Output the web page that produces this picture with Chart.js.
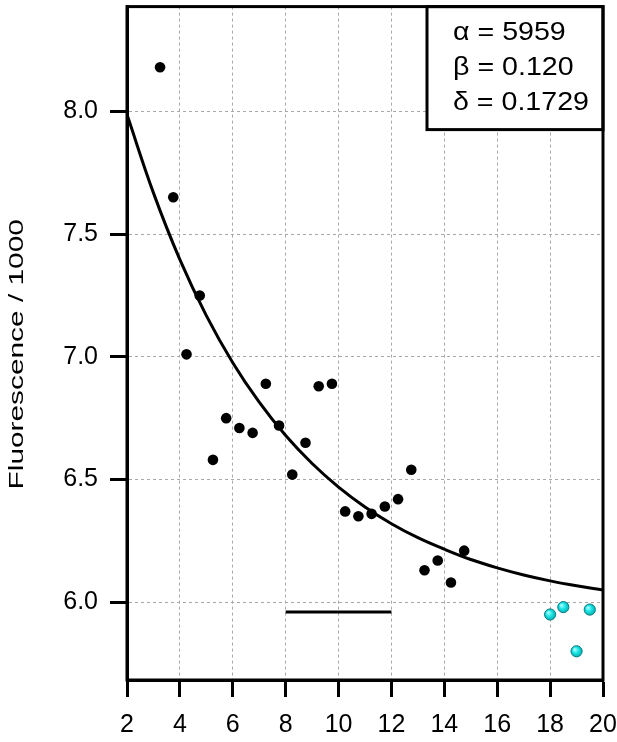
<!DOCTYPE html>
<html>
<head>
<meta charset="utf-8">
<script src="https://cdn.jsdelivr.net/npm/chart.js@4"></script>
<style>
  html, body { margin: 0; padding: 0; background: #fff; }
  #wrap { width: 617px; height: 742px; }
</style>
</head>
<body>
<div id="wrap"><canvas id="fluoC" width="617" height="742"></canvas></div>
<script>
// données
const xTicks = [2, 4, 6, 8, 10, 12, 14, 16, 18, 20];
const yTicks = [6.0, 6.5, 7.0, 7.5, 8.0];

const measX = [3.25, 3.75, 4.25, 4.75, 5.25, 5.75, 6.25, 6.75, 7.25, 7.75, 8.25, 8.75,
               9.25, 9.75, 10.25, 10.75, 11.25, 11.75, 12.25, 12.75, 13.25, 13.75, 14.25, 14.75];
const measY = [8.18, 7.65, 7.01, 7.25, 6.58, 6.75, 6.71, 6.69, 6.89, 6.72, 6.52, 6.65,
               6.88, 6.89, 6.37, 6.35, 6.36, 6.39, 6.42, 6.54, 6.13, 6.17, 6.08, 6.21];

const extraX = [18.0, 18.5, 19.0, 19.5];
const extraY = [5.95, 5.98, 5.80, 5.97];

const fitX = [2, 3, 4, 5, 6, 7, 8, 9, 10, 11, 12, 13, 14, 15, 16, 17, 18, 19, 20];
const fitY = [7.987, 7.668, 7.396, 7.168, 6.976, 6.815, 6.679, 6.565, 6.469, 6.388, 6.320,
              6.263, 6.216, 6.174, 6.140, 6.111, 6.087, 6.067, 6.050];

const barX = [8, 12];
const barY = [5.96, 5.96];

const params = ['\u03B1 = 5959', '\u03B2 = 0.120', '\u03B4 = 0.1729'];
const yTitleText = 'Fluorescence / 1000';

const FONT = "'Liberation Sans', Arial, sans-serif";

function pts(xs, ys) {
  return xs.map((x, i) => ({ x, y: ys[i] }));
}

// petit dégradé "bille" pour les points cyan
function cyanFill(c) {
  const chart = c.chart;
  if (c.type !== 'data' || !chart.chartArea) return '#17e0e0';
  const px = chart.scales.x.getPixelForValue(c.raw.x);
  const py = chart.scales.y.getPixelForValue(c.raw.y);
  const g = chart.ctx.createRadialGradient(px - 2, py - 2, 0.5, px, py, 6);
  g.addColorStop(0, '#aaffff');
  g.addColorStop(0.45, '#1ee6e6');
  g.addColorStop(1, '#00a9ab');
  return g;
}

// cadre complet autour de la zone du graphique
const framePlugin = {
  id: 'frame',
  afterDraw(chart) {
    const { ctx, chartArea: a } = chart;
    ctx.save();
    ctx.lineWidth = 3;
    ctx.strokeStyle = '#000';
    ctx.strokeRect(a.left, a.top, a.right - a.left, a.bottom - a.top);
    ctx.restore();
  },
};

// titre de l'axe Y (texte étiré comme sur la figure)
const yTitlePlugin = {
  id: 'yTitle',
  afterDraw(chart) {
    const { ctx, chartArea: a } = chart;
    ctx.save();
    ctx.translate(17.5, (a.top + a.bottom) / 2 + 11);
    ctx.rotate(-Math.PI / 2);
    ctx.scale(1.42, 1);
    ctx.fillStyle = '#000';
    ctx.font = '21px ' + FONT;
    ctx.textAlign = 'center';
    ctx.textBaseline = 'middle';
    ctx.fillText(yTitleText, 0, 0);
    ctx.restore();
  },
};

// boîte des paramètres en haut à droite
const paramBox = {
  id: 'paramBox',
  afterDatasetsDraw(chart) {
    const { ctx, chartArea: a } = chart;
    const w = 176, h = 123;
    const x0 = a.right - w, y0 = a.top;
    ctx.save();
    ctx.fillStyle = '#fff';
    ctx.fillRect(x0, y0, w, h);
    ctx.lineWidth = 3;
    ctx.strokeStyle = '#000';
    ctx.strokeRect(x0, y0, w, h);
    ctx.fillStyle = '#000';
    ctx.font = '26px ' + FONT;
    ctx.textBaseline = 'alphabetic';
    params.forEach((t, i) => {
      ctx.save();
      ctx.translate(x0 + 26, y0 + 33 + i * 35);
      ctx.scale(1.1, 1);
      ctx.fillText(t, 0, 0);
      ctx.restore();
    });
    ctx.restore();
  },
};

new Chart(document.getElementById('fluoC'), {
  type: 'scatter',
  data: {
    datasets: [
      {
        label: 'mesures',
        data: pts(measX, measY),
        pointRadius: 5.3,
        pointBackgroundColor: '#000',
        pointBorderWidth: 0,
      },
      {
        label: 'hors fit',
        data: pts(extraX, extraY),
        pointRadius: 5.6,
        pointBackgroundColor: cyanFill,
        pointBorderColor: '#087c80',
        pointBorderWidth: 1,
      },
      {
        label: 'fit',
        data: pts(fitX, fitY),
        showLine: true,
        borderColor: '#000',
        borderWidth: 3,
        pointRadius: 0,
        tension: 0.4,
      },
      {
        label: 'barre',
        data: pts(barX, barY),
        showLine: true,
        borderColor: '#000',
        borderWidth: 3,
        pointRadius: 0,
      },
    ],
  },
  options: {
    responsive: false,
    animation: false,
    layout: { padding: { top: 5, right: 14, left: 0, bottom: 0 } },
    plugins: { legend: { display: false }, tooltip: { enabled: false } },
    scales: {
      x: {
        type: 'linear',
        min: 2,
        max: 20,
        afterBuildTicks: s => { s.ticks = xTicks.map(v => ({ value: v })); },
        afterFit: s => { s.height = 62; s.paddingLeft = 0; s.paddingRight = 0; },
        ticks: { color: '#000', font: { family: FONT, size: 25 }, padding: 13, maxRotation: 0 },
        grid: { color: '#a8a8a8', lineWidth: 1, tickColor: '#000', tickWidth: 3, tickLength: 17 },
        border: { color: '#000', width: 3, dash: [3, 3] },
      },
      y: {
        type: 'linear',
        min: 5.683,
        max: 8.427,
        afterBuildTicks: s => { s.ticks = yTicks.map(v => ({ value: v })); },
        afterFit: s => { s.width = 127; s.paddingTop = 0; s.paddingBottom = 0; },
        ticks: {
          color: '#000',
          font: { family: FONT, size: 25 },
          padding: 12,
          callback: v => v.toFixed(1),
        },
        grid: { color: '#a8a8a8', lineWidth: 1, tickColor: '#000', tickWidth: 3, tickLength: 17 },
        border: { color: '#000', width: 3, dash: [3, 3] },
      },
    },
  },
  plugins: [paramBox, framePlugin, yTitlePlugin],
});
</script>
</body>
</html>
